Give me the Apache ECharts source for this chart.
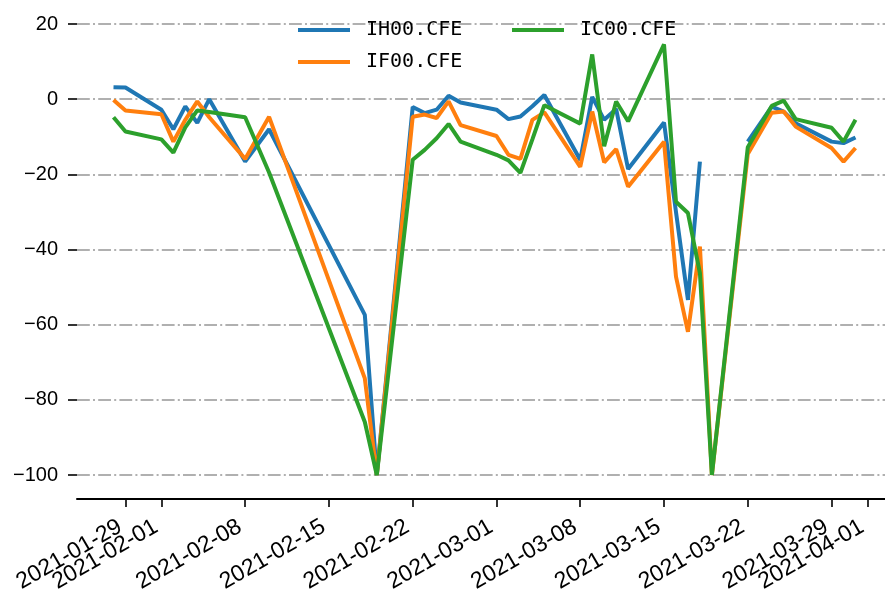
<!DOCTYPE html>
<html>
<head>
<meta charset="utf-8">
<script src="https://cdn.jsdelivr.net/npm/echarts@6/dist/echarts.min.js"></script>
<style>
  html, body { margin: 0; padding: 0; background: #fff; }
  #chart { width: 885px; height: 594px; }
</style>
</head>
<body>
<div id="chart"></div>
<script>
  // trading days
  var dates = [
    '2021-01-28', '2021-01-29', '2021-02-01', '2021-02-02', '2021-02-03', '2021-02-04', '2021-02-05',
    '2021-02-08', '2021-02-10', '2021-02-18', '2021-02-19',
    '2021-02-22', '2021-02-23', '2021-02-24', '2021-02-25', '2021-02-26',
    '2021-03-01', '2021-03-02', '2021-03-03', '2021-03-04', '2021-03-05',
    '2021-03-08', '2021-03-09', '2021-03-10', '2021-03-11', '2021-03-12',
    '2021-03-15', '2021-03-16', '2021-03-17', '2021-03-18', '2021-03-19',
    '2021-03-22', '2021-03-24', '2021-03-25', '2021-03-26',
    '2021-03-29', '2021-03-30', '2021-03-31'
  ];
  var ih00 = [
    3.2, 3.1, -2.8, -8.0, -1.9, -6.3, 0.0,
    -16.6, -8.0, -57.4, -100,
    -2.1, -3.7, -2.8, 0.9, -0.9,
    -2.8, -5.3, -4.6, -1.9, 1.1,
    -16.2, 0.6, -5.5, -2.6, -18.6,
    -6.2, -30.0, -53.4, -16.6, null,
    -11.3, -2.0, -3.3, -6.4,
    -11.3, -11.7, -10.2
  ];
  var if00 = [
    -0.2, -3.0, -4.0, -11.3, -5.5, -0.6, -4.8,
    -15.9, -4.7, -74.3, -100,
    -4.7, -4.1, -5.0, -0.6, -6.9,
    -9.8, -14.8, -15.9, -5.5, -3.5,
    -18.0, -3.3, -16.8, -13.3, -23.3,
    -11.3, -47.2, -61.9, -39.2, -100,
    -14.6, -3.6, -3.3, -7.3,
    -13.0, -16.6, -13.0
  ];
  var ic00 = [
    -4.8, -8.6, -10.7, -14.2, -7.5, -3.0, -3.4,
    -4.8, -19.5, -85.9, -100,
    -16.1, -13.5, -10.4, -6.6, -11.3,
    -14.8, -16.3, -19.6, -10.7, -1.6,
    -6.5, 11.9, -12.5, -0.6, -5.9,
    14.6, -27.3, -30.3, -46.3, -100,
    -12.8, -1.8, -0.4, -5.3,
    -7.6, -11.3, -5.5
  ];
  var xTicks = [
    '2021-01-29', '2021-02-01', '2021-02-08', '2021-02-15', '2021-02-22', '2021-03-01',
    '2021-03-08', '2021-03-15', '2021-03-22', '2021-03-29', '2021-04-01'
  ];
  // two of the tick labels crowd their neighbours; they go on a second, label-only axis
  var xTicksCrowded = ['2021-02-01', '2021-03-29'];
  var seriesNames = ['IH00.CFE', 'IF00.CFE', 'IC00.CFE'];
  var colors = ['#1f77b4', '#ff7f0e', '#2ca02c'];

  var DAY = 86400000;

  function ts(s) {
    var p = s.split('-');
    return Date.UTC(+p[0], +p[1] - 1, +p[2]);
  }

  function pad(n) {
    return n < 10 ? '0' + n : '' + n;
  }

  function fmtDate(v) {
    var d = new Date(Math.round(v / DAY) * DAY);
    return d.getUTCFullYear() + '-' + pad(d.getUTCMonth() + 1) + '-' + pad(d.getUTCDate());
  }

  function pairs(values) {
    return dates.map(function (d, i) {
      return [ts(d), values[i]];
    });
  }

  var tickValues = xTicks.map(ts);
  var crowdedValues = xTicksCrowded.map(ts);
  var mainLabelValues = tickValues.filter(function (v) {
    return crowdedValues.indexOf(v) < 0;
  });
  var xMin = ts(dates[0]) - 3.05 * DAY;
  var xMax = ts(dates[dates.length - 1]) + 3.05 * DAY;

  var legendText = {
    fontFamily: 'DejaVu Sans Mono',
    fontSize: 20,
    color: '#000',
    lineHeight: 22,
    padding: [0, 0, 0, 11]
  };

  function legendAt(name, left, top) {
    return {
      data: [name],
      left: left,
      top: top,
      icon: 'rect',
      itemWidth: 52,
      itemHeight: 4,
      selectedMode: false,
      textStyle: legendText
    };
  }

  function xLabel(values) {
    return {
      customValues: values,
      rotate: 30,
      margin: 23,
      padding: [0, 6, 0, 0],
      hideOverlap: false,
      showMinLabel: true,
      showMaxLabel: true,
      fontFamily: 'Liberation Sans',
      fontSize: 23,
      color: '#000',
      formatter: function (v) {
        return fmtDate(v);
      }
    };
  }

  var chart = echarts.init(document.getElementById('chart'), null, {renderer: 'canvas'});

  chart.setOption({
    animation: false,
    backgroundColor: '#fff',
    color: colors,
    legend: [
      legendAt(seriesNames[0], 293, 14),
      legendAt(seriesNames[1], 293, 46),
      legendAt(seriesNames[2], 507, 14)
    ],
    grid: {
      left: 77,
      top: 24,
      width: 815,
      height: 451,
      outerBoundsMode: 'none'
    },
    xAxis: [
      {
        type: 'value',
        position: 'bottom',
        min: xMin,
        max: xMax,
        offset: 24,
        axisLine: {onZero: false, lineStyle: {color: '#000', width: 2}},
        axisTick: {
          customValues: tickValues,
          length: 8,
          lineStyle: {color: '#000', width: 1.6}
        },
        axisLabel: xLabel(mainLabelValues),
        splitLine: {show: false}
      },
      {
        type: 'value',
        position: 'bottom',
        min: xMin,
        max: xMax,
        offset: 24,
        axisLine: {show: false, onZero: false},
        axisTick: {show: false},
        axisLabel: xLabel(crowdedValues),
        splitLine: {show: false}
      }
    ],
    yAxis: {
      type: 'value',
      min: -100,
      max: 20,
      interval: 20,
      axisLine: {show: false},
      axisTick: {
        show: true,
        length: 9,
        lineStyle: {color: '#000', width: 1.6}
      },
      axisLabel: {
        margin: 19,
        fontFamily: 'Liberation Sans',
        fontSize: 20,
        color: '#000',
        formatter: function (v) {
          return String(v).replace('-', '\u2212');
        }
      },
      splitLine: {
        show: true,
        lineStyle: {color: '#b0b0b0', width: 2, type: [12.8, 3.2, 2, 3.2]}
      }
    },
    series: seriesNames.map(function (name, i) {
      return {
        name: name,
        type: 'line',
        xAxisIndex: 0,
        data: pairs([ih00, if00, ic00][i]),
        showSymbol: false,
        symbol: 'none',
        clip: false,
        connectNulls: false,
        lineStyle: {width: 4, color: colors[i]}
      };
    })
  });
</script>
</body>
</html>
